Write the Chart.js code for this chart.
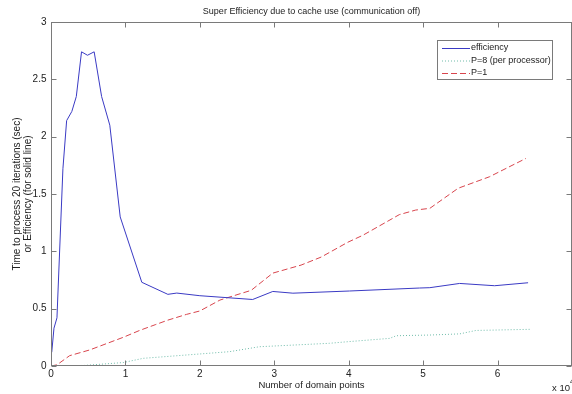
<!DOCTYPE html>
<html><head><meta charset="utf-8">
<script src="https://cdn.jsdelivr.net/npm/chart.js@4/dist/chart.umd.min.js"></script>
<style>html,body{margin:0;padding:0;background:#fff}#wrap{width:572px;height:394px}</style>
</head><body><div id="wrap"><canvas id="c" width="572" height="394"></canvas></div>
<script>
// Data (x in units of 10^4 domain points)
const effX = [0.01, 0.04, 0.08, 0.16, 0.21, 0.28, 0.34, 0.41, 0.49, 0.58, 0.68, 0.79, 0.93, 1.22, 1.57, 1.69, 2.0, 2.71, 2.98, 3.25, 4.01, 4.95, 5.09, 5.49, 5.96, 6.41];
const effY = [0.12, 0.33, 0.42, 1.72, 2.14, 2.22, 2.35, 2.74, 2.71, 2.74, 2.35, 2.10, 1.30, 0.73, 0.625, 0.636, 0.613, 0.58, 0.65, 0.635, 0.654, 0.68, 0.683, 0.72, 0.70, 0.726];
const p8X = [0, 0.45, 0.97, 1.24, 2.40, 2.80, 3.74, 3.99, 4.55, 4.64, 5.09, 5.49, 5.71, 6.45];
const p8Y = [0, 0.005, 0.03, 0.067, 0.125, 0.168, 0.198, 0.212, 0.241, 0.264, 0.27, 0.28, 0.31, 0.32];
const p1X = [0, 0.08, 0.25, 0.52, 0.97, 1.19, 1.40, 1.57, 1.82, 2.0, 2.27, 2.54, 2.69, 2.98, 3.36, 3.63, 3.99, 4.19, 4.68, 4.90, 5.09, 5.47, 5.89, 6.38];
const p1Y = [0, 0.01, 0.09, 0.14, 0.25, 0.31, 0.36, 0.40, 0.45, 0.48, 0.575, 0.63, 0.66, 0.81, 0.88, 0.95, 1.08, 1.14, 1.32, 1.36, 1.375, 1.55, 1.65, 1.81];
const seriesNames = ['efficiency', 'P=8 (per processor)', 'P=1'];
const xTicks = [0, 1, 2, 3, 4, 5, 6, 7];
const yTicks = [0, 0.5, 1, 1.5, 2, 2.5, 3];
const titleText = 'Super Efficiency due to cache use (communication off)';
const xTitle = 'Number of domain points';
const yTitle = ['Time to process 20 iterations (sec)', 'or Efficiency (for solid line)'];

const pts = (xs, ys) => xs.map((x, i) => ({x, y: ys[i]}));
const FONT = '"Liberation Sans", Arial, sans-serif';
const colors = ['#3a3ac4', '#70bcaa', '#d8454d'];
const dashes = [[], [1, 2], [6, 3]];

const frame = {
  id: 'frame',
  afterDatasetsDraw(chart) {
    const {ctx, chartArea: a, scales: {x, y}} = chart;
    ctx.save();
    ctx.strokeStyle = '#7a7a7a';
    ctx.lineWidth = 1;
    const L = Math.round(a.left) + 0.5, R = Math.round(a.right) - 0.5;
    const T = Math.round(a.top) + 0.5, B = Math.round(a.bottom) - 0.5;
    ctx.strokeRect(L, T, R - L, B - T);
    ctx.beginPath();
    xTicks.forEach(v => {
      const px = Math.round(x.getPixelForValue(v)) + 0.5;
      ctx.moveTo(px, B); ctx.lineTo(px, B - 5);
      ctx.moveTo(px, T); ctx.lineTo(px, T + 5);
    });
    yTicks.forEach(v => {
      const py = Math.round(y.getPixelForValue(v)) + 0.5;
      ctx.moveTo(L, py); ctx.lineTo(L + 5, py);
      ctx.moveTo(R, py); ctx.lineTo(R - 5, py);
    });
    ctx.stroke();
    // tick labels
    ctx.fillStyle = '#222';
    ctx.font = '10px ' + FONT;
    ctx.textAlign = 'center'; ctx.textBaseline = 'top';
    xTicks.slice(0, 7).forEach(v => ctx.fillText(String(v), x.getPixelForValue(v), B + 4));
    ctx.textAlign = 'right'; ctx.textBaseline = 'middle';
    yTicks.forEach(v => ctx.fillText(String(v), L - 5, y.getPixelForValue(v)));
    // title
    ctx.font = '9px ' + FONT;
    ctx.textAlign = 'center'; ctx.textBaseline = 'middle';
    ctx.fillText(titleText, (a.left + a.right) / 2, 12);
    // x title
    ctx.font = '9.5px ' + FONT;
    ctx.fillText(xTitle, (a.left + a.right) / 2, 385);
    // exponent
    ctx.font = '9.5px ' + FONT;
    ctx.textAlign = 'left';
    ctx.fillText('x 10', 552, 388);
    ctx.font = '7px ' + FONT;
    ctx.fillText('4', 570, 382);
    // y title
    ctx.font = '10px ' + FONT;
    ctx.save();
    ctx.translate(17, (a.top + a.bottom) / 2);
    ctx.rotate(-Math.PI / 2);
    ctx.textAlign = 'center'; ctx.textBaseline = 'middle';
    ctx.fillText(yTitle[0], 0, 0);
    ctx.fillText(yTitle[1], 0, 11);
    ctx.restore();
    // legend
    const bx = 437.5, by = 40.5, bw = 115, bh = 39;
    ctx.fillStyle = '#fff';
    ctx.fillRect(bx, by, bw, bh);
    ctx.strokeStyle = '#7a7a7a';
    ctx.strokeRect(bx, by, bw, bh);
    const rows = [48, 60.5, 73];
    ctx.font = '9px ' + FONT;
    seriesNames.forEach((n, i) => {
      ctx.strokeStyle = colors[i];
      ctx.setLineDash(dashes[i]);
      ctx.beginPath();
      ctx.moveTo(442, rows[i] + 0.5); ctx.lineTo(470, rows[i] + 0.5);
      ctx.stroke();
      ctx.setLineDash([]);
      ctx.fillStyle = '#222';
      ctx.textAlign = 'left'; ctx.textBaseline = 'middle';
      ctx.fillText(n, 471, rows[i]);
    });
    ctx.restore();
  }
};

new Chart(document.getElementById('c'), {
  type: 'line',
  data: {
    datasets: [
      {label: seriesNames[0], data: pts(effX, effY), borderColor: colors[0], borderWidth: 1, borderDash: dashes[0]},
      {label: seriesNames[1], data: pts(p8X, p8Y), borderColor: colors[1], borderWidth: 1, borderDash: dashes[1]},
      {label: seriesNames[2], data: pts(p1X, p1Y), borderColor: colors[2], borderWidth: 1, borderDash: dashes[2]}
    ]
  },
  options: {
    responsive: false,
    animation: false,
    layout: {padding: {top: 22, right: -1, bottom: 0, left: 0}},
    elements: {point: {radius: 0, hoverRadius: 0}, line: {tension: 0}},
    plugins: {legend: {display: false}, tooltip: {enabled: false}, title: {display: false}},
    scales: {
      x: {type: 'linear', min: 0, max: 7, grid: {display: false}, border: {display: false},
          ticks: {display: false, stepSize: 1},
          afterFit(s) { s.height = 28; }},
      y: {type: 'linear', min: 0, max: 3, grid: {display: false}, border: {display: false},
          ticks: {display: false, stepSize: 0.5},
          afterFit(s) { s.width = 51; }}
    }
  },
  plugins: [frame]
});
</script></body></html>
